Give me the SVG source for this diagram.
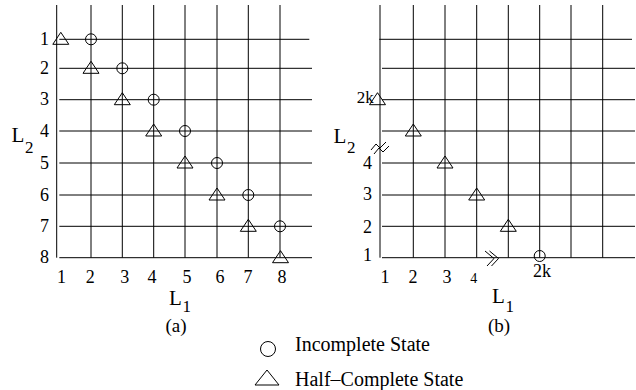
<svg xmlns="http://www.w3.org/2000/svg" xmlns:xlink="http://www.w3.org/1999/xlink" width="636" height="390" viewBox="0 0 636 390">
<style>
.g line{stroke:#000;stroke-width:1}
.m{fill:none;stroke:#000;stroke-width:1}
text{font-family:"Liberation Serif","Times New Roman",serif;fill:#000;font-size:18px}
.lg{font-size:20px}
.L{font-size:21px}
.s{font-size:17px}
</style>
<defs>
<path id="tri" class="m" d="M-8,5 L0,-7 L8,5 Z"/>
</defs>
<rect width="636" height="390" fill="#fff"/>

<g id="grid-a" class="g">
<line x1="56.7" y1="5" x2="56.7" y2="257.7"/>
<line x1="91" y1="5" x2="91" y2="257.7"/>
<line x1="122.3" y1="5" x2="122.3" y2="257.7"/>
<line x1="153.7" y1="5" x2="153.7" y2="257.7"/>
<line x1="185" y1="5" x2="185" y2="257.7"/>
<line x1="217" y1="5" x2="217" y2="257.7"/>
<line x1="248.3" y1="5" x2="248.3" y2="257.7"/>
<line x1="280" y1="5" x2="280" y2="257.7"/>
<line x1="59.3" y1="39.3" x2="309.3" y2="39.3"/>
<line x1="59.3" y1="68.3" x2="312" y2="68.3"/>
<line x1="59.3" y1="99.7" x2="312" y2="99.7"/>
<line x1="59.3" y1="131" x2="312" y2="131"/>
<line x1="59.3" y1="163" x2="312" y2="163"/>
<line x1="59.3" y1="195" x2="312" y2="195"/>
<line x1="59.3" y1="226.3" x2="312" y2="226.3"/>
<line x1="59.3" y1="257.7" x2="312" y2="257.7"/>
</g>

<g id="grid-b" class="g">
<line x1="380" y1="5" x2="380" y2="257.7"/>
<line x1="413.3" y1="5" x2="413.3" y2="257.7"/>
<line x1="445" y1="5" x2="445" y2="257.7"/>
<line x1="476.7" y1="5" x2="476.7" y2="257.7"/>
<line x1="508.3" y1="5" x2="508.3" y2="257.7"/>
<line x1="539.7" y1="5" x2="539.7" y2="257.7"/>
<line x1="571" y1="5" x2="571" y2="257.7"/>
<line x1="602.7" y1="5" x2="602.7" y2="257.7"/>
<line x1="379.3" y1="39.3" x2="632" y2="39.3"/>
<line x1="382" y1="68.3" x2="635" y2="68.3"/>
<line x1="382" y1="99.7" x2="635" y2="99.7"/>
<line x1="382" y1="131" x2="635" y2="131"/>
<line x1="382" y1="163" x2="635" y2="163"/>
<line x1="382" y1="195" x2="635" y2="195"/>
<line x1="382" y1="226.3" x2="635" y2="226.3"/>
<line x1="382" y1="257.7" x2="635" y2="257.7"/>
</g>

<g id="markers-a">
<use xlink:href="#tri" x="60.8" y="39.3"/>
<use xlink:href="#tri" x="91" y="68.3"/>
<use xlink:href="#tri" x="122.3" y="99.7"/>
<use xlink:href="#tri" x="153.7" y="131"/>
<use xlink:href="#tri" x="185" y="163"/>
<use xlink:href="#tri" x="217" y="195"/>
<use xlink:href="#tri" x="248.3" y="226.3"/>
<use xlink:href="#tri" x="280.5" y="257.7"/>
<circle class="m" cx="91" cy="39.3" r="5.5"/>
<circle class="m" cx="122.3" cy="68.3" r="5.5"/>
<circle class="m" cx="153.7" cy="99.7" r="5.5"/>
<circle class="m" cx="185" cy="131" r="5.5"/>
<circle class="m" cx="217" cy="163" r="5.5"/>
<circle class="m" cx="248.3" cy="195" r="5.5"/>
<circle class="m" cx="280" cy="226.3" r="5.5"/>
</g>

<g id="markers-b">
<use xlink:href="#tri" x="377.5" y="99.7"/>
<use xlink:href="#tri" x="413.3" y="131"/>
<use xlink:href="#tri" x="445" y="163"/>
<use xlink:href="#tri" x="476.7" y="195"/>
<use xlink:href="#tri" x="508.3" y="226.3"/>
<circle class="m" cx="539.7" cy="256" r="5.5"/>
</g>

<g id="breaks" class="m">
<polyline points="371,150 376,144 380,148 386,142"/>
<polyline points="374,154 379,148 383,152 389,146"/>
<polyline points="485,251 494,258.5 487,266"/>
<polyline points="489.5,251 498.5,258.5 491.5,266"/>
</g>

<g id="labels-a">
<text x="40" y="45">1</text>
<text x="40" y="74">2</text>
<text x="40" y="105.4">3</text>
<text x="40" y="136.7">4</text>
<text x="40" y="168.7">5</text>
<text x="40" y="200.7">6</text>
<text x="40" y="232">7</text>
<text x="40" y="263.4">8</text>
<g text-anchor="middle">
<text x="61.5" y="283">1</text>
<text x="90.3" y="283">2</text>
<text x="124.7" y="283">3</text>
<text x="152" y="283">4</text>
<text x="187" y="283">5</text>
<text x="220" y="283">6</text>
<text x="248" y="283">7</text>
<text x="282" y="283">8</text>
<text x="176" y="332" style="font-size:19px">(a)</text>
</g>
<text class="L" x="169" y="305">L</text><text class="s" x="182.5" y="311.7">1</text>
<text class="L" x="11.5" y="141.7">L</text><text class="s" x="25" y="153">2</text>
</g>

<g id="labels-b">
<text x="356.7" y="102.7" style="font-size:17px">2k</text>
<text x="363" y="169">4</text>
<text x="363" y="200">3</text>
<text x="363" y="232.5">2</text>
<text x="363" y="261">1</text>
<g text-anchor="middle">
<text x="385" y="283">1</text>
<text x="413" y="283">2</text>
<text x="447" y="283">3</text>
<text x="473.7" y="283" style="font-size:14px">4</text>
<text x="499" y="332" style="font-size:19px">(b)</text>
</g>
<text x="533" y="277">2k</text>
<text class="L" x="492" y="303">L</text><text class="s" x="505.5" y="311.7">1</text>
<text class="L" x="333.5" y="143.3">L</text><text class="s" x="347" y="153.3">2</text>
</g>

<g id="legend">
<circle class="m" cx="268" cy="349" r="7.5"/>
<path class="m" d="M255,385 L267,370 L279,385 Z"/>
<text class="lg" x="295" y="351">Incomplete State</text>
<text class="lg" x="295" y="386">Half–Complete State</text>
</g>
</svg>
